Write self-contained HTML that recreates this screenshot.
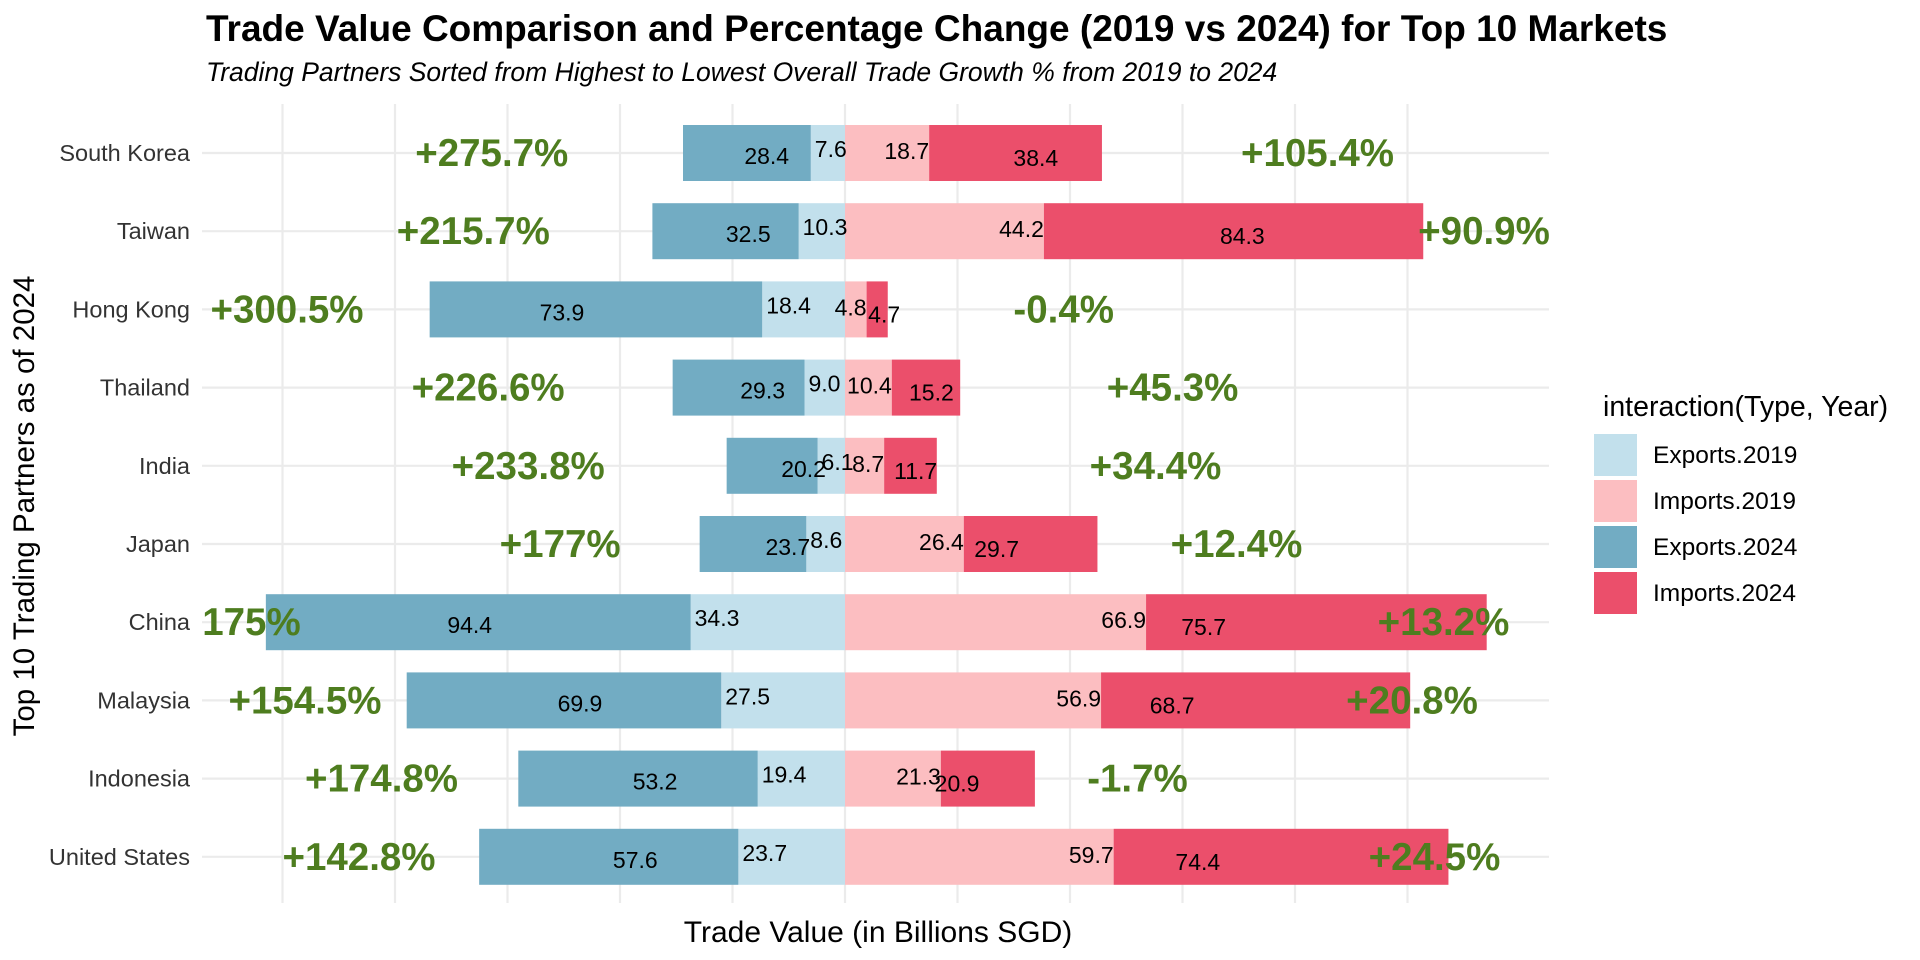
<!DOCTYPE html>
<html><head><meta charset="utf-8"><style>
html,body{margin:0;padding:0;background:#fff;}
svg{display:block;font-family:"Liberation Sans",Arial,sans-serif;}
</style></head><body>
<svg id="chart" width="1920" height="960" viewBox="0 0 1920 960" xmlns="http://www.w3.org/2000/svg">
<defs><clipPath id="panelClip"><rect x="202" y="100" width="1347" height="810"/></clipPath></defs>
<text x="206" y="41" font-size="37" font-weight="bold" fill="#000">Trade Value Comparison and Percentage Change (2019 vs 2024) for Top 10 Markets</text>
<text x="206" y="81" font-size="26.5" font-style="italic" fill="#000">Trading Partners Sorted from Highest to Lowest Overall Trade Growth % from 2019 to 2024</text>
<g id="grid"></g>
<g id="bars"></g>
<g id="labels"></g>
<g id="pct" clip-path="url(#panelClip)"></g>
<g id="yaxis"></g>
<text x="878" y="942" font-size="30" text-anchor="middle" fill="#000">Trade Value (in Billions SGD)</text>
<text transform="translate(34,506) rotate(-90)" font-size="29.5" text-anchor="middle" fill="#000">Top 10 Trading Partners as of 2024</text>
<g id="legend">
<text x="1603" y="416" font-size="28.5" fill="#000">interaction(Type, Year)</text>
</g>
</svg>
<script>
const countries = ["South Korea","Taiwan","Hong Kong","Thailand","India","Japan","China","Malaysia","Indonesia","United States"];
const exports2019 = [7.6,10.3,18.4,9.0,6.1,8.6,34.3,27.5,19.4,23.7];
const exports2024 = [28.4,32.5,73.9,29.3,20.2,23.7,94.4,69.9,53.2,57.6];
const imports2019 = [18.7,44.2,4.8,10.4,8.7,26.4,66.9,56.9,21.3,59.7];
const imports2024 = [38.4,84.3,4.7,15.2,11.7,29.7,75.7,68.7,20.9,74.4];
const exportGrowth = ["+275.7%","+215.7%","+300.5%","+226.6%","+233.8%","+177%","+175%","+154.5%","+174.8%","+142.8%"];
const importGrowth = ["+105.4%","+90.9%","-0.4%","+45.3%","+34.4%","+12.4%","+13.2%","+20.8%","-1.7%","+24.5%"];
const exportGrowthPos = [-78.5,-82.6,-124,-79.3,-70.4,-63.3,-134.4,-120,-103,-108];
const importGrowthPos = [105,142,48.6,72.8,69,87,133,126,65,131];
const gridTicks = [-125,-100,-75,-50,-25,0,25,50,75,100,125];
const legendKeys = ["Exports.2019","Imports.2019","Exports.2024","Imports.2024"];

const NS="http://www.w3.org/2000/svg";
const CX=845, K=4.5, Y0=153, STEP=78.2, BH=56;
const x=v=>CX+v*K;
const y=i=>Y0+i*STEP;
const colors={"Exports.2019":"#c2e0ec","Imports.2019":"#fcbec1","Exports.2024":"#72acc3","Imports.2024":"#eb4f6b"};
function mk(tag,attrs,parent){const e=document.createElementNS(NS,tag);for(const k in attrs)e.setAttribute(k,attrs[k]);parent.appendChild(e);return e;}
const grid=document.getElementById('grid'),bars=document.getElementById('bars'),labels=document.getElementById('labels'),pct=document.getElementById('pct'),yaxis=document.getElementById('yaxis'),legend=document.getElementById('legend');
countries.forEach((c,i)=>{
  const l=mk('line',{x1:202,x2:1549,y1:y(i),y2:y(i),stroke:'#ebebeb','stroke-width':2.2},grid);
  
  
});
gridTicks.forEach(t=>{
  const l=mk('line',{x1:x(t),x2:x(t),y1:104,y2:903,stroke:'#ebebeb','stroke-width':2.2},grid);
  
  
});
function txt(s,xx,yy,anchor,size,parent,extra){const t=mk('text',Object.assign({x:xx,y:yy,'text-anchor':anchor,'font-size':size,fill:'#000'},extra||{}),parent);t.textContent=s;return t;}
countries.forEach((c,i)=>{
  const yc=y(i), top=yc-BH/2;
  const e19=exports2019[i], e24=exports2024[i], i19=imports2019[i], i24=imports2024[i];
  let r;
  r=mk('rect',{x:x(-e19),y:top,width:e19*K,height:BH,fill:colors["Exports.2019"]},bars);
  
  
  r=mk('rect',{x:x(-e19-e24),y:top,width:e24*K,height:BH,fill:colors["Exports.2024"]},bars);
  
  
  r=mk('rect',{x:x(0),y:top,width:i19*K,height:BH,fill:colors["Imports.2019"]},bars);
  
  
  r=mk('rect',{x:x(i19),y:top,width:i24*K,height:BH,fill:colors["Imports.2024"]},bars);
  
  
  let t;
  t=txt(e19.toFixed(1),x(-e19)+4,yc+4,'start',23,labels);
  
  
  t=txt(e24.toFixed(1),x(-e24+11),yc+11,'middle',23,labels);
  
  
  t=txt(i19.toFixed(1),x(i19),yc+6,'end',23,labels);
  
  
  t=txt(i24.toFixed(1),x(i24+4),yc+13,'middle',23,labels);
  
  
  t=txt(exportGrowth[i],x(exportGrowthPos[i]),yc+13,'middle',38.5,pct,{'font-weight':'bold',fill:'#4e7d1f'});
  
  
  t=txt(importGrowth[i],x(importGrowthPos[i]),yc+13,'middle',38.5,pct,{'font-weight':'bold',fill:'#4e7d1f'});
  
  
  t=txt(c,190,yc+8,'end',23.5,yaxis,{fill:'#333'});
  
  
});
legendKeys.forEach((k,j)=>{
  const ky=434+j*46;
  const r=mk('rect',{x:1594,y:ky,width:43,height:42,fill:colors[k]},legend);
  
  
  const t=txt(k,1653,ky+29,'start',24.5,legend);
  
  
});
</script>
</body></html>
